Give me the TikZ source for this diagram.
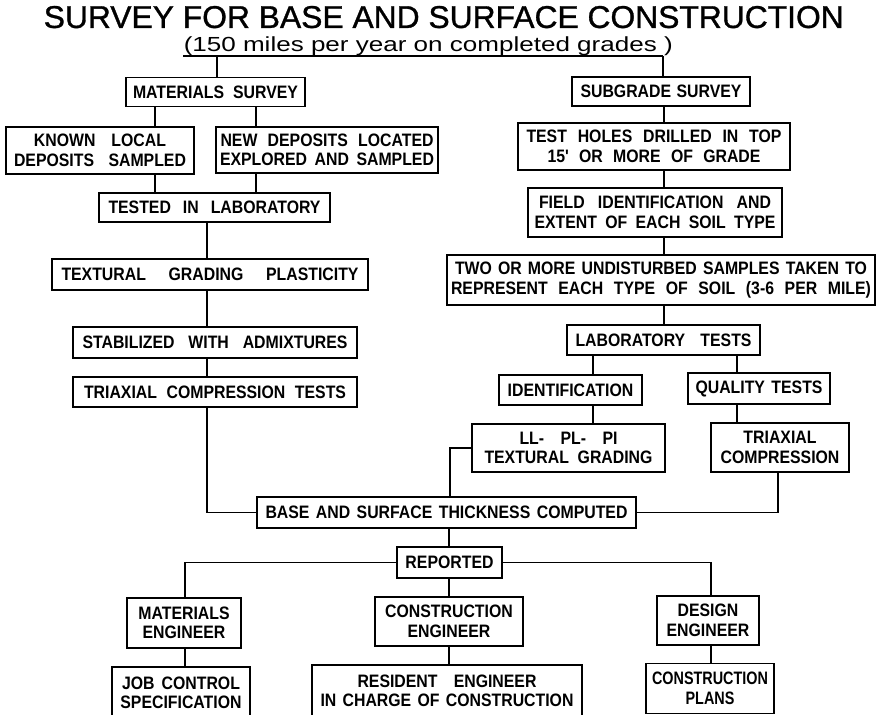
\documentclass[tikz,border=0pt]{standalone}
\usepackage{graphicx}
\usepackage{fontspec}
\setmainfont{Liberation Sans}
\newfontfamily\ttl{Liberation Sans}[FakeBold=1]
\newfontfamily\bx{Liberation Sans}[FakeStretch=0.88,WordSpace=1.3]
\newfontfamily\bxc{Liberation Sans}[FakeStretch=0.80,WordSpace=1.3]
\newcommand{\fitline}[2]{\makebox[#1pt][s]{#2}}
\begin{document}
\begin{tikzpicture}[x=1pt,y=-1pt,line width=1.5pt,
  box/.style={draw,line width=1.6pt,inner sep=0pt,align=center,
    font=\bx\bfseries\fontsize{18}{19.5}\selectfont},
  conn/.style={line width=1.5pt}]
\useasboundingbox (0,0) rectangle (876,715);
\clip (0,0) rectangle (876,715);

% titles
\node[anchor=south west,inner sep=0pt,font=\ttl] (title) at (43,29)
  {\resizebox{800pt}{22pt}{SURVEY FOR BASE AND SURFACE CONSTRUCTION}};
\node[anchor=south west,inner sep=0pt] (sub) at (183,56)
  {\resizebox*{489pt}{19pt}{(150 miles per year on completed grades )}};

% left column
\node[box,minimum width=179pt,minimum height=29pt] (matsurv) at (215.5,92) {\fitline{165}{MATERIALS SURVEY}};
\node[box,minimum width=188pt,minimum height=47pt] (known) at (100,150.5) {\fitline{132}{KNOWN LOCAL}\\\fitline{172}{DEPOSITS SAMPLED}};
\node[box,minimum width=222pt,minimum height=46pt] (newdep) at (327,150) {\fitline{213}{NEW DEPOSITS LOCATED}\\\fitline{214}{EXPLORED AND SAMPLED}};
\node[box,minimum width=231pt,minimum height=29pt] (tested) at (214.5,207.5) {\fitline{212}{TESTED IN LABORATORY}};
\node[box,minimum width=316pt,minimum height=31pt] (textural) at (210,274.5) {\fitline{297}{TEXTURAL GRADING PLASTICITY}};
\node[box,minimum width=284pt,minimum height=31pt] (stabil) at (215,342.5) {\fitline{265}{STABILIZED WITH ADMIXTURES}};
\node[box,minimum width=284pt,minimum height=30pt] (triaxT) at (215,392) {\fitline{262}{TRIAXIAL COMPRESSION TESTS}};

% right column
\node[box,minimum width=178pt,minimum height=29pt] (subsurv) at (661,91.5) {\fitline{161}{SUBGRADE SURVEY}};
\node[box,minimum width=272pt,minimum height=47pt] (testholes) at (654,146.5) {\fitline{255}{TEST HOLES DRILLED IN TOP}\\\fitline{213}{15' OR MORE OF GRADE}};
\node[box,minimum width=254pt,minimum height=49pt] (fieldid) at (655,212.5) {\fitline{232}{FIELD IDENTIFICATION AND}\\\fitline{241}{EXTENT OF EACH SOIL TYPE}};
\node[box,minimum width=428pt,minimum height=50pt] (twoor) at (661,280) {\fitline{412}{TWO OR MORE UNDISTURBED SAMPLES TAKEN TO}\\\fitline{420}{REPRESENT EACH TYPE OF SOIL (3-6 PER MILE)}};
\node[box,minimum width=193pt,minimum height=30pt] (labtests) at (663.5,340) {\fitline{176}{LABORATORY TESTS}};
\node[box,minimum width=143pt,minimum height=30pt] (ident) at (570.5,390) {IDENTIFICATION};
\node[box,minimum width=142pt,minimum height=31pt] (quality) at (759,388.5) {\fitline{127}{QUALITY TESTS}};
\node[box,minimum width=193pt,minimum height=48pt] (llpl) at (568.5,448) {\fitline{98}{LL- PL- PI}\\\fitline{168}{TEXTURAL GRADING}};
\node[box,minimum width=138pt,minimum height=49pt] (triaxC) at (780,447.5) {TRIAXIAL\\COMPRESSION};

% bottom
\node[box,minimum width=379pt,minimum height=31pt] (base) at (446.5,512.5) {\fitline{362}{BASE AND SURFACE THICKNESS COMPUTED}};
\node[box,minimum width=105pt,minimum height=31pt] (reported) at (449.5,562.5) {REPORTED};
\node[box,minimum width=114pt,minimum height=50pt] (matEng) at (184,623) {MATERIALS\\ENGINEER};
\node[box,minimum width=148pt,minimum height=49pt] (conEng) at (449,621.5) {CONSTRUCTION\\ENGINEER};
\node[box,minimum width=102pt,minimum height=49pt] (desEng) at (708,620.5) {DESIGN\\ENGINEER};
\node[box,minimum width=138pt,minimum height=52pt] (jobctl) at (181,693) {\fitline{118}{JOB CONTROL}\\SPECIFICATION};
\node[box,minimum width=270pt,minimum height=52pt] (resident) at (447,691) {\fitline{179}{RESIDENT ENGINEER}\\\fitline{253}{IN CHARGE OF CONSTRUCTION}};
\node[box,minimum width=128pt,minimum height=50pt,font=\bxc\bfseries\fontsize{18}{19.5}\selectfont] (conPlans) at (710,688.5) {CONSTRUCTION\\PLANS};

% connectors
\coordinate (ul) at (183,56);
\coordinate (tl) at (217,56);
\coordinate (tr) at (663,56);
\draw[conn] (ul) -- (tr);
\draw[conn] (tl) -- (tl |- matsurv.north);
\draw[conn] (tr) -- (tr |- subsurv.north);

\coordinate (xa) at (155,0);
\coordinate (xb) at (256,0);
\draw[conn] (xa |- matsurv.south) -- (xa |- known.north);
\draw[conn] (xb |- matsurv.south) -- (xb |- newdep.north);
\draw[conn] (xa |- known.south) -- (xa |- tested.north);
\draw[conn] (xb |- newdep.south) -- (xb |- tested.north);
\coordinate (xc) at (207,0);
\draw[conn] (xc |- tested.south) -- (xc |- textural.north);
\draw[conn] (xc |- textural.south) -- (xc |- stabil.north);
\draw[conn] (xc |- stabil.south) -- (xc |- triaxT.north);
\draw[conn] (xc |- triaxT.south) -- (xc |- base.west) -- (base.west);

\coordinate (xd) at (664,0);
\draw[conn] (xd |- subsurv.south) -- (xd |- testholes.north);
\draw[conn] (xd |- testholes.south) -- (xd |- fieldid.north);
\draw[conn] (xd |- fieldid.south) -- (xd |- twoor.north);
\draw[conn] (xd |- twoor.south) -- (xd |- labtests.north);
\coordinate (xe) at (593,0);
\coordinate (xf) at (737,0);
\draw[conn] (xe |- labtests.south) -- (xe |- ident.north);
\draw[conn] (xf |- labtests.south) -- (xf |- quality.north);
\draw[conn] (xe |- ident.south) -- (xe |- llpl.north);
\draw[conn] (xf |- quality.south) -- (xf |- triaxC.north);
\coordinate (xg) at (450,0);
\draw[conn] (llpl.west) -- (xg |- llpl.west) -- (xg |- base.north);
\coordinate (xh) at (778,0);
\draw[conn] (xh |- triaxC.south) -- (xh |- base.east) -- (base.east);

\coordinate (xi) at (449,0);
\draw[conn] (xi |- base.south) -- (xi |- reported.north);
\draw[conn] (xi |- reported.south) -- (xi |- conEng.north);
\draw[conn] (xi |- conEng.south) -- (xi |- resident.north);
\coordinate (xj) at (185,0);
\coordinate (xk) at (711,0);
\draw[conn] (reported.west) -- (xj |- reported.west) -- (xj |- matEng.north);
\draw[conn] (reported.east) -- (xk |- reported.east) -- (xk |- desEng.north);
\draw[conn] (xj |- matEng.south) -- (xj |- jobctl.north);
\draw[conn] (xk |- desEng.south) -- (xk |- conPlans.north);
\end{tikzpicture}
\end{document}
